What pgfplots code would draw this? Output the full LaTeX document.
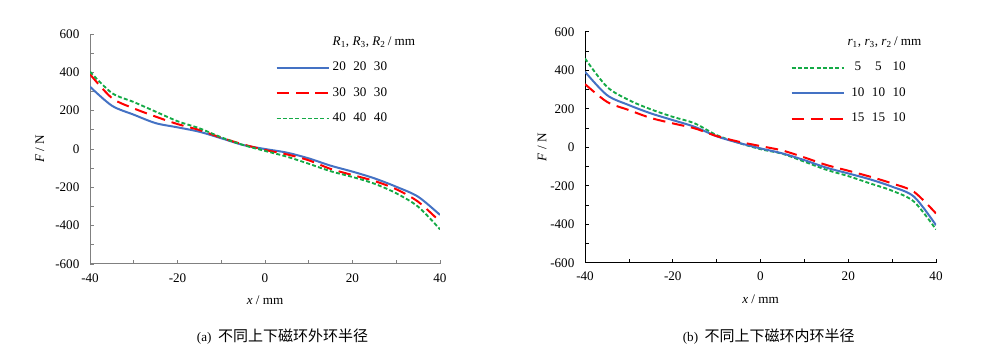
\documentclass[border=0pt]{standalone}
\usepackage{pgfplots}
\pgfplotsset{compat=1.18}
\usepackage{fontspec}
\setmainfont{Liberation Serif}
\newfontfamily\cjk{Noto Sans CJK SC}
\definecolor{cblue}{RGB}{68,114,196}
\definecolor{cred}{RGB}{255,0,0}
\definecolor{cgreen}{RGB}{20,170,70}
\pgfplotsset{
  mystyle/.style={
    scale only axis,
    xmin=-40,xmax=40,ymin=-600,ymax=600,
    axis x line=bottom, axis y line=left,
    axis line style={-},
    xtick={-40,-20,0,20,40}, minor xtick={-30,-10,10,30},
    ytick={-600,-400,...,600}, minor ytick={-500,-300,-100,100,300,500},
    tick align=inside,
    major tick length=3pt, minor tick length=3pt,
    tick style={line width=0.6pt},
    /pgf/number format/assume math mode=true,
    ticklabel style={font=\fontsize{10.5}{12}\selectfont},
    yticklabel style={xshift=-5pt},
    xticklabel style={yshift=-4pt},
    label style={font=\fontsize{10.5}{12}\selectfont},
    legend cell align=left,
    legend image code/.code={\draw[##1] (0pt,0pt) -- (42pt,0pt);},
    legend style={draw=none, fill=none, inner sep=0pt, row sep=7.3pt,
      font=\fontsize{10.5}{12}\selectfont,
      nodes={text height=7pt, text depth=2pt, inner sep=2pt}},
    every axis plot/.append style={smooth, line width=1.5pt, no marks},
  },
  sblue/.style={color=cblue, solid, line width=1.6pt},
  sred/.style={color=cred, dash pattern=on 10pt off 5.5pt, line width=1.6pt},
  sgreen/.style={color=cgreen, dash pattern=on 3.2pt off 1.8pt, line width=1.5pt},
}
\begin{document}
\begin{tikzpicture}
\useasboundingbox (0,0) rectangle (800pt,283.2pt);
% (a)
\begin{axis}[mystyle,
  at={(72pt,72pt)}, anchor=south west, width=280pt, height=184pt,
  axis line style={-, draw=gray, line width=0.8pt},
  tick style={draw=gray, line width=0.6pt},
  xlabel={\textit{x} / mm}, ylabel={\textit{F} / N},
  xlabel style={at={(axis description cs:0.5,-0.1565)}, anchor=center},
  ylabel style={at={(axis description cs:-0.143,0.5)}, anchor=center, rotate=0},
  legend style={at={(axis description cs:0.53,1.0)}, anchor=north west},
]
\addlegendimage{empty legend}
\addlegendentry{\textit{R}\textsubscript{1}, \textit{R}\textsubscript{3}, \textit{R}\textsubscript{2}\,/ mm}
\addplot[sblue] coordinates {(-40,325) (-35,226) (-30,179) (-25,135) (-20,113) (-15,90) (-10,56) (-5,21) (0,0) (5,-19) (10,-49) (15,-87) (20,-118) (25,-153) (30,-197) (35,-249) (40,-344)};
\addlegendentry{\makebox[16.5pt][l]{20}\makebox[16.5pt][l]{20}30}
\addplot[sred] coordinates {(-40,390) (-35,266) (-30,212) (-25,169) (-20,130) (-15,99) (-10,59) (-5,24) (0,-5) (5,-28) (10,-59) (15,-104) (20,-136) (25,-167) (30,-210) (35,-275) (40,-379)};
\addlegendentry{\makebox[16.5pt][l]{30}\makebox[16.5pt][l]{30}30}
\addplot[sgreen] coordinates {(-40,403) (-35,292) (-30,245) (-25,195) (-20,145) (-15,108) (-10,61) (-5,21) (0,-10) (5,-40) (10,-77) (15,-116) (20,-146) (25,-181) (30,-231) (35,-301) (40,-419)};
\addlegendentry{\makebox[16.5pt][l]{40}\makebox[16.5pt][l]{40}40}
\end{axis}
% (b)
\begin{axis}[mystyle,
  at={(468pt,73pt)}, anchor=south west, width=280.8pt, height=184.8pt,
  axis line style={-, draw=black, line width=0.8pt},
  tick style={draw=black, line width=0.6pt},
  xlabel={\textit{x} / mm}, ylabel={\textit{F} / N},
  xlabel style={at={(axis description cs:0.5,-0.1558)}, anchor=center},
  ylabel style={at={(axis description cs:-0.1225,0.5)}, anchor=center, rotate=0},
  legend style={at={(axis description cs:0.585,0.99)}, anchor=north west},
]
\addlegendimage{empty legend}
\addlegendentry{\textit{r}\textsubscript{1}, \textit{r}\textsubscript{3}, \textit{r}\textsubscript{2}\,/ mm}
\addplot[sgreen] coordinates {(-40,461) (-35,314) (-30,245) (-25,197) (-20,158) (-15,124) (-10,63) (-5,23) (0,-10) (5,-34) (10,-75) (15,-117) (20,-150) (25,-188) (30,-226) (35,-283) (40,-427)};
\addlegendentry{\makebox[16.5pt][c]{5}\makebox[16.5pt][c]{5}\makebox[16.5pt][c]{10}}
\addplot[sblue] coordinates {(-40,392) (-35,271) (-30,219) (-25,176) (-20,141) (-15,106) (-10,57) (-5,23) (0,-6) (5,-32) (10,-67) (15,-106) (20,-136) (25,-167) (30,-205) (35,-257) (40,-405)};
\addlegendentry{\makebox[16.5pt][c]{10}\makebox[16.5pt][c]{10}\makebox[16.5pt][c]{10}}
\addplot[sred] coordinates {(-40,328) (-35,236) (-30,193) (-25,152) (-20,124) (-15,98) (-10,58) (-5,29) (0,6) (5,-17) (10,-53) (15,-92) (20,-122) (25,-153) (30,-188) (35,-232) (40,-344)};
\addlegendentry{\makebox[16.5pt][c]{15}\makebox[16.5pt][c]{15}\makebox[16.5pt][c]{10}}
\end{axis}
\node[anchor=center, font=\fontsize{10.5}{12}\selectfont] at (226pt,13.6pt) {(a)\ \ {\cjk\fontsize{12}{14}\selectfont 不同上下磁环外环半径}};
\node[anchor=center, font=\fontsize{10.5}{12}\selectfont] at (615pt,13.6pt) {(b)\ \ {\cjk\fontsize{12}{14}\selectfont 不同上下磁环内环半径}};
\end{tikzpicture}
\end{document}
